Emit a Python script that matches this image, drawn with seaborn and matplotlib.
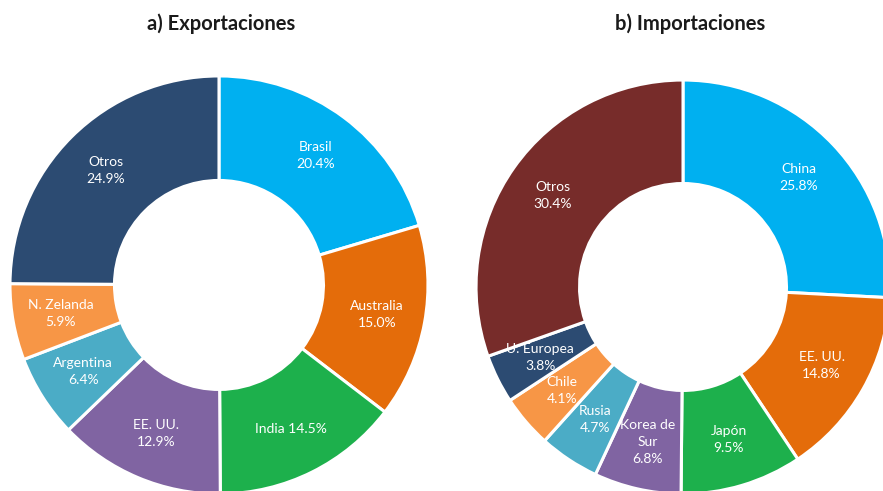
import numpy as np
import matplotlib
matplotlib.use("Agg")
import matplotlib.pyplot as plt
import seaborn as sns

# data
exp_labels = ["Brasil", "Australia", "India", "EE. UU.", "Argentina", "N. Zelanda", "Otros"]
exp_values = [20.4, 15.0, 14.5, 12.9, 6.4, 5.9, 24.9]
exp_colors = ["#00B0F0", "#E46C0A", "#1DB04C", "#8064A2", "#4BACC6", "#F79646", "#2C4B72"]

imp_labels = ["China", "EE. UU.", "Japón", "Korea de\nSur", "Rusia", "Chile", "U. Europea", "Otros"]
imp_values = [25.8, 14.8, 9.5, 6.8, 4.7, 4.1, 3.8, 30.4]
imp_colors = ["#00B0F0", "#E46C0A", "#1DB04C", "#8064A2", "#4BACC6", "#F79646", "#2C4B72", "#772C2A"]

sns.set_theme(style="white")
plt.rcParams['font.family'] = ['Lato', 'DejaVu Sans']

fig = plt.figure(figsize=(8.83, 4.91), dpi=100)


def donut(rect, labels, values, colors, title, title_x, oneline=()):
    ax = fig.add_axes(rect)
    wedges, _ = ax.pie(values, colors=colors, startangle=90, counterclock=False,
                       radius=1.0,
                       wedgeprops=dict(width=0.5, edgecolor="white", linewidth=2.2))
    for w, lab, v in zip(wedges, labels, values):
        ang = np.deg2rad((w.theta1 + w.theta2) / 2)
        r = 0.77
        txt = f"{lab} {v:.1f}%" if lab in oneline else f"{lab}\n{v:.1f}%"
        ax.text(r * np.cos(ang), r * np.sin(ang), txt, ha="center", va="center",
                color="white", fontsize=10, linespacing=1.5)
    ax.set_xlim(-1, 1)
    ax.set_ylim(-1, 1)
    ax.set_aspect("equal")
    ax.axis("off")
    fig.text(title_x, 0.952, title, ha="center", va="center",
             fontsize=14.5, fontweight="bold", color="#1a1a1a")
    return ax


donut([0.0113, -0.006, 0.4734, 0.8513], exp_labels, exp_values, exp_colors,
      "a) Exportaciones", 0.25, oneline=("India",))
donut([0.539, -0.006, 0.469, 0.843], imp_labels, imp_values, imp_colors,
      "b) Importaciones", 0.782)

fig.savefig("out.png", dpi=100)
